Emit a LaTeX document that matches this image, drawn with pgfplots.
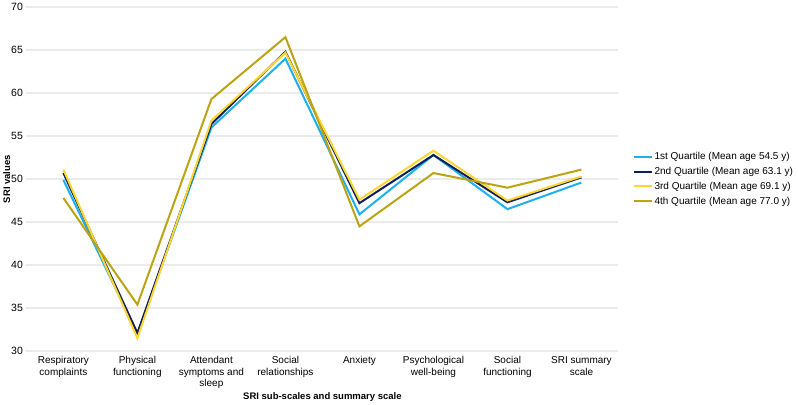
\documentclass[border=0pt]{standalone}
\usepackage{pgfplots}
\pgfplotsset{compat=1.18}
\usepackage{fontspec}
\setmainfont{Liberation Sans}
\definecolor{q1}{HTML}{1CB0EE}
\definecolor{q2}{HTML}{0E1F5B}
\definecolor{q3}{HTML}{FFD630}
\definecolor{q4}{HTML}{BBA314}
\begin{document}
\begin{tikzpicture}
\begin{axis}[
  scale only axis,
  width=592pt, height=344pt,
  xmin=-0.5, xmax=7.5, ymin=30, ymax=70,
  ytick={30,35,...,70},
  xtick={0,...,7},
  xticklabels={Respiratory\\complaints, Physical\\functioning, Attendant\\symptoms and\\sleep, Social\\relationships, Anxiety, Psychological\\well-being, Social\\functioning, SRI summary\\scale},
  xticklabel style={align=center, font=\fontsize{10}{11.5}\selectfont, yshift=-2pt},
  yticklabel style={font=\fontsize{10.5}{12}\selectfont},
  /pgf/number format/assume math mode=true,
  axis line style={draw=none},
  major tick length=0pt,
  ymajorgrids, grid style={draw=black!8, line width=1.2pt},
  xlabel={\textbf{SRI sub-scales and summary scale}},
  ylabel={\textbf{SRI values}},
  xlabel style={font=\fontsize{9.5}{11}\selectfont, yshift=3pt},
  ylabel style={font=\fontsize{9.5}{11}\selectfont, yshift=-6pt},
  legend style={at={(1.02,0.5)}, anchor=west, draw=none, font=\fontsize{10}{12}\selectfont, row sep=2pt},
  legend cell align=left,
  legend image code/.code={\draw[#1, line width=2pt] (0pt,0pt) -- (0.6cm,0pt);},
  every axis plot/.append style={line width=2pt, line join=miter},
]
\addplot[q1] coordinates {(0,49.9) (1,32.0) (2,56.0) (3,64.0) (4,45.9) (5,52.8) (6,46.5) (7,49.6)};
\addlegendentry{1st Quartile (Mean age 54.5 y)}
\addplot[q2] coordinates {(0,50.7) (1,32.1) (2,56.4) (3,64.8) (4,47.2) (5,52.8) (6,47.3) (7,50.2)};
\addlegendentry{2nd Quartile (Mean age 63.1 y)}
\addplot[q3] coordinates {(0,51.1) (1,31.5) (2,56.8) (3,64.7) (4,47.6) (5,53.3) (6,47.5) (7,50.3)};
\addlegendentry{3rd Quartile (Mean age 69.1 y)}
\addplot[q4] coordinates {(0,47.8) (1,35.4) (2,59.3) (3,66.5) (4,44.5) (5,50.7) (6,49.0) (7,51.1)};
\addlegendentry{4th Quartile (Mean age 77.0 y)}
\end{axis}
\end{tikzpicture}
\end{document}
